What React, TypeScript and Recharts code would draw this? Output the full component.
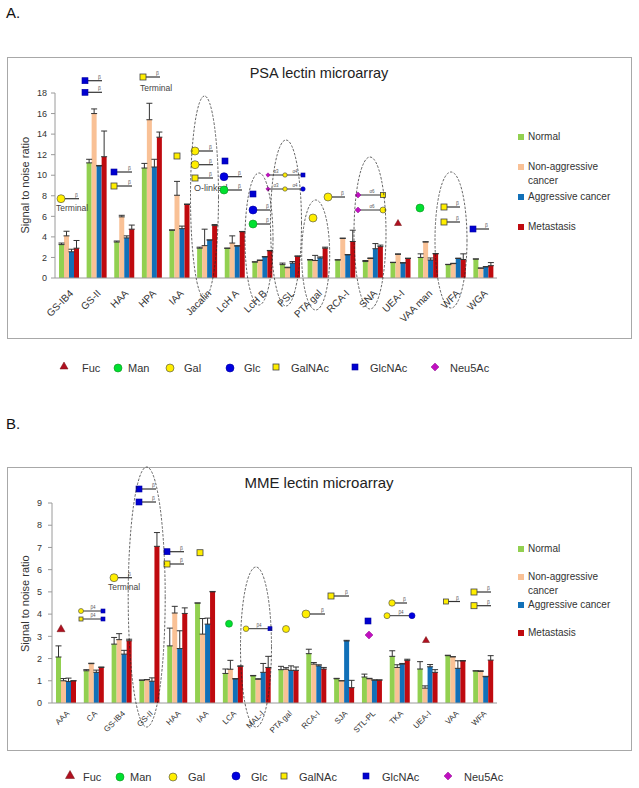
import {
  BarChart,
  Bar,
  XAxis,
  YAxis,
  ErrorBar,
  Legend,
} from "recharts";

const seriesNames = ["Normal", "Non-aggressive cancer", "Aggressive cancer", "Metastasis"];
const seriesColors = ["#92d050", "#f9c196", "#1170b8", "#bf0a0f"];

const psaLectins = ["GS-IB4", "GS-II", "HAA", "HPA", "IAA", "Jacalin", "LcH A", "LcH B", "PSL", "PTA gal", "RCA-I", "SNA", "UEA-I", "VAA man", "WFA", "WGA"];
const psaNormal = [3.25, 11.2, 3.5, 10.7, 4.65, 2.9, 2.9, 1.55, 1.3, 1.75, 1.75, 1.6, 1.5, 2.0, 1.3, 1.85];
const psaNonAggressive = [4.1, 16.0, 5.95, 15.4, 8.05, 3.15, 3.4, 1.7, 1.0, 1.7, 3.85, 1.9, 2.3, 3.5, 1.4, 0.95];
const psaAggressive = [2.55, 10.9, 3.9, 10.8, 4.8, 3.7, 3.1, 2.05, 1.45, 1.95, 2.25, 2.85, 1.45, 1.75, 1.9, 1.08];
const psaMetastasis = [2.9, 11.8, 4.75, 13.7, 7.15, 5.1, 4.5, 2.65, 2.1, 2.9, 3.55, 3.05, 1.9, 2.35, 1.8, 1.2];
const psaNormalErr = [0.15, 0.35, 0.1, 0.45, 0.03, 0.1, 0, 0.03, 0.15, 0.05, 0.03, 0.1, 0.03, 0.35, 0.03, 0];
const psaNonAggressiveErr = [0.45, 0.45, 0.15, 1.6, 1.35, 1.6, 0.7, 0.05, 0.05, 0.5, 0.03, 0.05, 0.05, 0.03, 0.03, 0.03];
const psaAggressiveErr = [0.25, 0.05, 0.2, 0.75, 0.25, 0, 0.05, 0.03, 0.15, 0.1, 0.03, 0.5, 0.05, 0.2, 0.03, 0.03];
const psaMetastasisErr = [0.75, 2.5, 0.4, 0.5, 0.05, 0.1, 0.03, 0.03, 0.05, 0.1, 1.1, 0.15, 0.03, 0.03, 0.55, 0.3];

const mmeLectins = ["AAA", "CA", "GS-IB4", "GS-II", "HAA", "IAA", "LCA", "MAL-I", "PTA gal", "RCA-I", "SJA", "STL-PL", "TKA", "UEA-I", "VAA", "WFA"];
const mmeNormal = [2.07, 1.45, 2.65, 1.03, 2.57, 4.5, 1.33, 1.22, 1.5, 2.22, 1.09, 1.17, 2.1, 1.53, 2.13, 1.44];
const mmeNonAggressive = [1.0, 1.77, 2.85, 1.05, 4.05, 3.1, 1.52, 1.07, 1.52, 1.75, 1.0, 1.09, 1.6, 0.67, 2.08, 1.42];
const mmeAggressive = [0.97, 1.38, 2.2, 0.98, 2.45, 3.55, 1.08, 1.38, 1.47, 1.67, 2.79, 1.03, 1.75, 1.63, 1.56, 1.18];
const mmeMetastasis = [1.0, 1.6, 2.8, 7.05, 4.03, 5.0, 1.65, 1.6, 1.47, 1.53, 0.69, 1.03, 1.92, 1.38, 1.89, 1.93];
const mmeNormalErr = [0.5, 0.05, 0.3, 0, 0.8, 0, 0.2, 0.02, 0.15, 0.2, 0.02, 0.13, 0.25, 0.33, 0.02, 0.01];
const mmeNonAggressiveErr = [0.1, 0.02, 0.27, 0, 0.3, 0.7, 0.4, 0.02, 0.07, 0.07, 0, 0.02, 0.12, 0.1, 0, 0.03];
const mmeAggressiveErr = [0.15, 0.1, 0.17, 0.15, 0.8, 0.27, 0.02, 0.4, 0.2, 0.05, 0.03, 0.01, 0.03, 0.1, 0.34, 0.02];
const mmeMetastasisErr = [0, 0.02, 0.07, 0.62, 0.25, 0.02, 0.02, 0.5, 0.15, 0.07, 0.33, 0.01, 0.05, 0.12, 0.02, 0.2];

const psaTicks = [0, 2, 4, 6, 8, 10, 12, 14, 16, 18];
const mmeTicks = [0, 1, 2, 3, 4, 5, 6, 7, 8, 9];

const buildRows = (names: string[], values: number[][], errs: number[][]) =>
  names.map((name, i) => {
    const row: any = { name };
    values.forEach((v, s) => {
      row["s" + s] = v[i];
      row["e" + s] = [0, errs[s][i]];
    });
    return row;
  });

const psaRows = buildRows(
  psaLectins,
  [psaNormal, psaNonAggressive, psaAggressive, psaMetastasis],
  [psaNormalErr, psaNonAggressiveErr, psaAggressiveErr, psaMetastasisErr]
);
const mmeRows = buildRows(
  mmeLectins,
  [mmeNormal, mmeNonAggressive, mmeAggressive, mmeMetastasis],
  [mmeNormalErr, mmeNonAggressiveErr, mmeAggressiveErr, mmeMetastasisErr]
);

const FONT = "'Liberation Sans', Arial, sans-serif";

const LegendBlock = ({ payload, rowTops }: any) => (
  <div style={{ position: "relative", fontFamily: FONT, fontSize: 10, color: "#333", lineHeight: "14px" }}>
    {(payload || []).map((item: any, i: number) => (
      <div key={item.value} style={{ position: "absolute", left: 0, top: rowTops[i], width: 100 }}>
        <span
          style={{
            position: "absolute",
            left: 0,
            top: 4,
            width: 6,
            height: 6,
            backgroundColor: item.color,
          }}
        />
        <div style={{ marginLeft: 10 }}>{item.value}</div>
      </div>
    ))}
  </div>
);

interface PanelProps {
  rows: any[];
  ticks: number[];
  top: number;
  height: number;
  left: number;
  plotTop: number;
  plotBottom: number;
  tickFontSize: number;
  xTickMargin: number;
  yTickMargin: number;
  labelDy: number;
  legendTop: number;
  rowTops: number[];
}

const LectinPanel = ({
  rows,
  ticks,
  top,
  height,
  left,
  plotTop,
  plotBottom,
  tickFontSize,
  xTickMargin,
  yTickMargin,
  labelDy,
  legendTop,
  rowTops,
}: PanelProps) => (
  <div
    style={{
      position: "absolute",
      left: 7,
      top,
      width: 625,
      height,
      boxSizing: "border-box",
      border: "1px solid #a8a8a8",
    }}
  >
    <BarChart
      width={623}
      height={height - 2}
      data={rows}
      barSize={5}
      barGap={0}
      margin={{ top: plotTop, right: 134, bottom: 0, left: 0 }}
    >
      <XAxis
        dataKey="name"
        height={plotBottom}
        interval={0}
        angle={-45}
        textAnchor="end"
        tickLine={false}
        tickMargin={xTickMargin}
        stroke="#9a9a9a"
        tick={{ fill: "#333", fontSize: tickFontSize, fontFamily: FONT }}
      />
      <YAxis
        width={left}
        domain={[0, ticks[ticks.length - 1]]}
        ticks={ticks}
        interval={0}
        tickSize={4}
        tickMargin={yTickMargin}
        stroke="#9a9a9a"
        tick={{ fill: "#333", fontSize: 9, fontFamily: FONT }}
        label={{
          value: "Signal to noise ratio",
          angle: -90,
          position: "insideLeft",
          dx: 12,
          dy: labelDy,
          fill: "#333",
          fontSize: 11,
          fontFamily: FONT,
        }}
      />
      <Legend
        layout="horizontal"
        align="center"
        verticalAlign="middle"
        itemSorter={null}
        wrapperStyle={{ left: 510, top: legendTop, width: 100, height: 10 }}
        content={(props: any) => <LegendBlock payload={props.payload} rowTops={rowTops} />}
      />
      {seriesNames.map((name, s) => (
        <Bar
          key={name}
          name={name}
          dataKey={"s" + s}
          fill={seriesColors[s]}
          isAnimationActive={false}
        >
          <ErrorBar dataKey={"e" + s} direction="y" width={3} stroke="#333" strokeWidth={1} isAnimationActive={false} />
        </Bar>
      ))}
    </BarChart>
  </div>
);

// sugar symbols used on top of the charts
const DARK = "#444";
const Gal = ({ x, y, r = 4 }: any) => <circle cx={x} cy={y} r={r} fill="#ffee00" stroke={DARK} strokeWidth={0.6} />;
const Glc = ({ x, y, r = 4 }: any) => <circle cx={x} cy={y} r={r} fill="#0000e0" stroke="#0000a0" strokeWidth={0.6} />;
const Man = ({ x, y, r = 4 }: any) => <circle cx={x} cy={y} r={r} fill="#00e030" stroke="#109020" strokeWidth={0.6} />;
const GalNAc = ({ x, y, s = 6 }: any) => <rect x={x - s / 2} y={y - s / 2} width={s} height={s} fill="#ffee00" stroke={DARK} strokeWidth={0.8} />;
const GlcNAc = ({ x, y, s = 6 }: any) => <rect x={x - s / 2} y={y - s / 2} width={s} height={s} fill="#0000d0" stroke="#0000a0" strokeWidth={0.6} />;
const Neu5Ac = ({ x, y, s = 4 }: any) => (
  <polygon points={`${x},${y - s} ${x + s},${y} ${x},${y + s} ${x - s},${y}`} fill="#c010c0" stroke="#901090" strokeWidth={0.5} />
);
const Fuc = ({ x, y, s = 4 }: any) => (
  <polygon points={`${x},${y - s} ${x + s},${y + s - 1} ${x - s},${y + s - 1}`} fill="#b01020" stroke="#701010" strokeWidth={0.5} />
);

// linkage stub: a line with a tiny anomeric label at its end
const Stem = ({ x1, x2, y, label = "β" }: any) => (
  <g>
    <line x1={x1} x2={x2} y1={y} y2={y} stroke="#333" strokeWidth={1.2} />
    <text x={x2 - 1} y={y - 2} fontSize={5} fill="#555" fontFamily={FONT} textAnchor="end">{label}</text>
  </g>
);
const Mid = ({ x, y, label }: any) => (
  <text x={x} y={y - 2} fontSize={4.5} fill="#555" fontFamily={FONT} textAnchor="middle">{label}</text>
);
const Note = ({ x, y, children, size = 8.5 }: any) => (
  <text x={x} y={y} fontSize={size} fill="#444" fontFamily={FONT}>{children}</text>
);
const Ring = ({ cx, cy, rx, ry }: any) => (
  <ellipse cx={cx} cy={cy} rx={rx} ry={ry} fill="none" stroke="#222" strokeWidth={0.7} strokeDasharray="2.5 1.5" />
);

const KeyText = ({ x, y, children }: any) => (
  <text x={x} y={y} fontSize={11} fill="#333" fontFamily={FONT}>{children}</text>
);

const Overlay = () => (
  <svg width={639} height={788} style={{ position: "absolute", left: 0, top: 0, pointerEvents: "none" }}>
    <text x={6} y={18} fontSize={15} fill="#111" fontFamily={FONT}>A.</text>
    <text x={6} y={429} fontSize={15} fill="#111" fontFamily={FONT}>B.</text>
    <text x={319} y={78} fontSize={14.5} fill="#222" fontFamily={FONT} textAnchor="middle">PSA lectin microarray</text>
    <text x={319} y={488} fontSize={15} fill="#222" fontFamily={FONT} textAnchor="middle">MME lectin microarray</text>

    {/* panel A glycans */}
    <Stem x1={61} x2={79} y={198.7} /><Gal x={61} y={198.7} />
    <Note x={56} y={211}>Terminal</Note>
    <Stem x1={85} x2={102} y={80.7} /><GlcNAc x={85} y={80.7} />
    <Stem x1={85} x2={102} y={92.3} /><GlcNAc x={85} y={92.3} />
    <Stem x1={143} x2={160} y={77} /><GalNAc x={143} y={77} />
    <Note x={140} y={91}>Terminal</Note>
    <Stem x1={114} x2={132} y={172} /><GlcNAc x={114} y={172} />
    <Stem x1={114} x2={132} y={186} /><GalNAc x={114} y={186} />
    <GalNAc x={177} y={156} />
    <Stem x1={195} x2={213} y={151} /><Gal x={195} y={151} />
    <Stem x1={195} x2={213} y={164.7} /><Gal x={195} y={164.7} />
    <Stem x1={195} x2={213} y={178} /><GalNAc x={195} y={178} />
    <Note x={194} y={191} size={9}>O-linked</Note>
    <GlcNAc x={225} y={161} />
    <Stem x1={224} x2={242} y={176.7} /><Glc x={224} y={176.7} />
    <Stem x1={224} x2={242} y={190} /><Man x={224} y={190} />
    <GlcNAc x={253} y={194} />
    <Stem x1={253} x2={270} y={210} /><Glc x={253} y={210} />
    <Stem x1={253} x2={270} y={224} /><Man x={253} y={224} />
    <line x1={268} x2={303} y1={175} y2={175} stroke="#333" strokeWidth={1} />
    <Mid x={276} y={175} label="α3" /><Mid x={295} y={175} label="α4" />
    <Neu5Ac x={268} y={175} s={2.2} /><Gal x={285} y={175} r={2.2} /><GlcNAc x={303} y={175} s={4} />
    <line x1={268} x2={303} y1={189} y2={189} stroke="#333" strokeWidth={1} />
    <Mid x={276} y={189} label="α3" /><Mid x={295} y={189} label="α4" />
    <Neu5Ac x={268} y={189} s={2.2} /><Gal x={285} y={189} r={2.2} /><Glc x={303} y={189} r={2.2} />
    <Gal x={313} y={218} />
    <Stem x1={328} x2={345} y={197} /><Gal x={328} y={197} />
    <line x1={358} x2={383} y1={195} y2={195} stroke="#333" strokeWidth={1} />
    <Mid x={372} y={195} label="α6" />
    <Neu5Ac x={358} y={195} s={3} /><GalNAc x={383} y={195} s={5} />
    <line x1={358} x2={383} y1={210} y2={210} stroke="#333" strokeWidth={1} />
    <Mid x={372} y={210} label="α6" />
    <Neu5Ac x={358} y={210} s={3} /><Gal x={383} y={210} r={3} />
    <Fuc x={398} y={223} s={3.5} />
    <Man x={420} y={208} />
    <Stem x1={444} x2={460} y={207} /><GalNAc x={444} y={207} />
    <Stem x1={444} x2={460} y={222} /><GalNAc x={444} y={222} />
    <Stem x1={473} x2={489} y={229} /><GlcNAc x={473} y={229} />

    <Ring cx={204.5} cy={197} rx={14} ry={101} />
    <Ring cx={259} cy={239} rx={14} ry={66} />
    <Ring cx={286} cy={223} rx={15.5} ry={83} />
    <Ring cx={315.7} cy={255} rx={14} ry={55} />
    <Ring cx={370} cy={233} rx={16} ry={76} />
    <Ring cx={451} cy={240} rx={16} ry={68} />

    {/* sugar key under panel A */}
    <Fuc x={64} y={366} />
    <KeyText x={82} y={372}>Fuc</KeyText>
    <Man x={118} y={368} />
    <KeyText x={128} y={372}>Man</KeyText>
    <Gal x={170} y={368} />
    <KeyText x={184} y={372}>Gal</KeyText>
    <Glc x={230} y={368} />
    <KeyText x={244} y={372}>Glc</KeyText>
    <GalNAc x={276} y={367} />
    <KeyText x={291} y={372}>GalNAc</KeyText>
    <GlcNAc x={355} y={367} />
    <KeyText x={370} y={372}>GlcNAc</KeyText>
    <Neu5Ac x={435} y={367} />
    <KeyText x={450} y={372}>Neu5Ac</KeyText>

    {/* panel B glycans */}
    <Fuc x={61} y={628.7} />
    <line x1={81} x2={103} y1={611} y2={611} stroke="#333" strokeWidth={1} />
    <Mid x={93} y={611} label="β4" />
    <Gal x={81} y={611} r={2.5} /><GlcNAc x={103} y={611} s={4} />
    <line x1={81} x2={103} y1={619} y2={619} stroke="#333" strokeWidth={1} />
    <Mid x={93} y={619} label="β4" />
    <GalNAc x={81} y={619} s={4} /><GlcNAc x={103} y={619} s={4} />
    <Stem x1={114} x2={132} y={577.7} /><Gal x={114} y={577.7} />
    <Note x={108} y={590}>Terminal</Note>
    <Stem x1={139} x2={156} y={489} /><GlcNAc x={139} y={489} />
    <Stem x1={139} x2={156} y={502} /><GlcNAc x={139} y={502} />
    <Stem x1={167} x2={184} y={551.7} /><GlcNAc x={167} y={551.7} />
    <Stem x1={167} x2={184} y={564} /><GalNAc x={167} y={564} />
    <GalNAc x={200} y={552.7} />
    <Man x={229} y={623.7} r={3.5} />
    <line x1={246} x2={270} y1={628.7} y2={628.7} stroke="#333" strokeWidth={1} />
    <Mid x={259} y={628.7} label="β4" />
    <Gal x={246} y={628.7} r={2.8} /><GlcNAc x={270} y={628.7} s={4} />
    <Gal x={286} y={629} r={3.5} />
    <Stem x1={306} x2={325} y={614} /><Gal x={306} y={614} />
    <Stem x1={331} x2={349} y={596} /><GalNAc x={331} y={596} />
    <GlcNAc x={368} y={621} />
    <Neu5Ac x={369} y={635} />
    <Stem x1={392} x2={407} y={603} /><Gal x={392} y={603} r={3.2} />
    <line x1={387} x2={412} y1={615.7} y2={615.7} stroke="#333" strokeWidth={1} />
    <Mid x={401} y={615.7} label="β4" />
    <Gal x={387} y={615.7} r={3} /><Glc x={412} y={615.7} r={3} />
    <Fuc x={426} y={640} s={3.5} />
    <Stem x1={446} x2={460} y={601.5} /><GalNAc x={446} y={601.5} s={5} />
    <Stem x1={474} x2={491} y={592} /><GalNAc x={474} y={592} />
    <Stem x1={474} x2={491} y={605.7} /><GalNAc x={474} y={605.7} />

    <Ring cx={146.7} cy={597} rx={18.5} ry={130} />
    <Ring cx={256} cy={647} rx={15.5} ry={80} />

    {/* sugar key under panel B */}
    <Fuc x={70} y={775} s={4.5} />
    <KeyText x={83} y={781}>Fuc</KeyText>
    <Man x={120} y={777} />
    <KeyText x={130} y={781}>Man</KeyText>
    <Gal x={173} y={777} />
    <KeyText x={188} y={781}>Gal</KeyText>
    <Glc x={236} y={776} />
    <KeyText x={251} y={781}>Glc</KeyText>
    <GalNAc x={284} y={776} />
    <KeyText x={299} y={781}>GalNAc</KeyText>
    <GlcNAc x={366} y={776} />
    <KeyText x={382} y={781}>GlcNAc</KeyText>
    <Neu5Ac x={448} y={776} />
    <KeyText x={464} y={781}>Neu5Ac</KeyText>
  </svg>
);

export default function App() {
  return (
    <div style={{ position: "absolute", left: 0, top: 0, width: 639, height: 788, background: "#fff" }}>
      <LectinPanel
        rows={psaRows}
        ticks={psaTicks}
        top={57}
        height={282}
        left={47}
        plotTop={35}
        plotBottom={60}
        tickFontSize={10}
        xTickMargin={5}
        yTickMargin={4}
        labelDy={48}
        legendTop={72}
        rowTops={[0, 30, 60, 90]}
      />
      <LectinPanel
        rows={mmeRows}
        ticks={mmeTicks}
        top={467}
        height={284}
        left={44}
        plotTop={35}
        plotBottom={47}
        tickFontSize={8}
        xTickMargin={1}
        yTickMargin={6}
        labelDy={49}
        legendTop={74}
        rowTops={[0, 28, 56, 84]}
      />
      <Overlay />
    </div>
  );
}
